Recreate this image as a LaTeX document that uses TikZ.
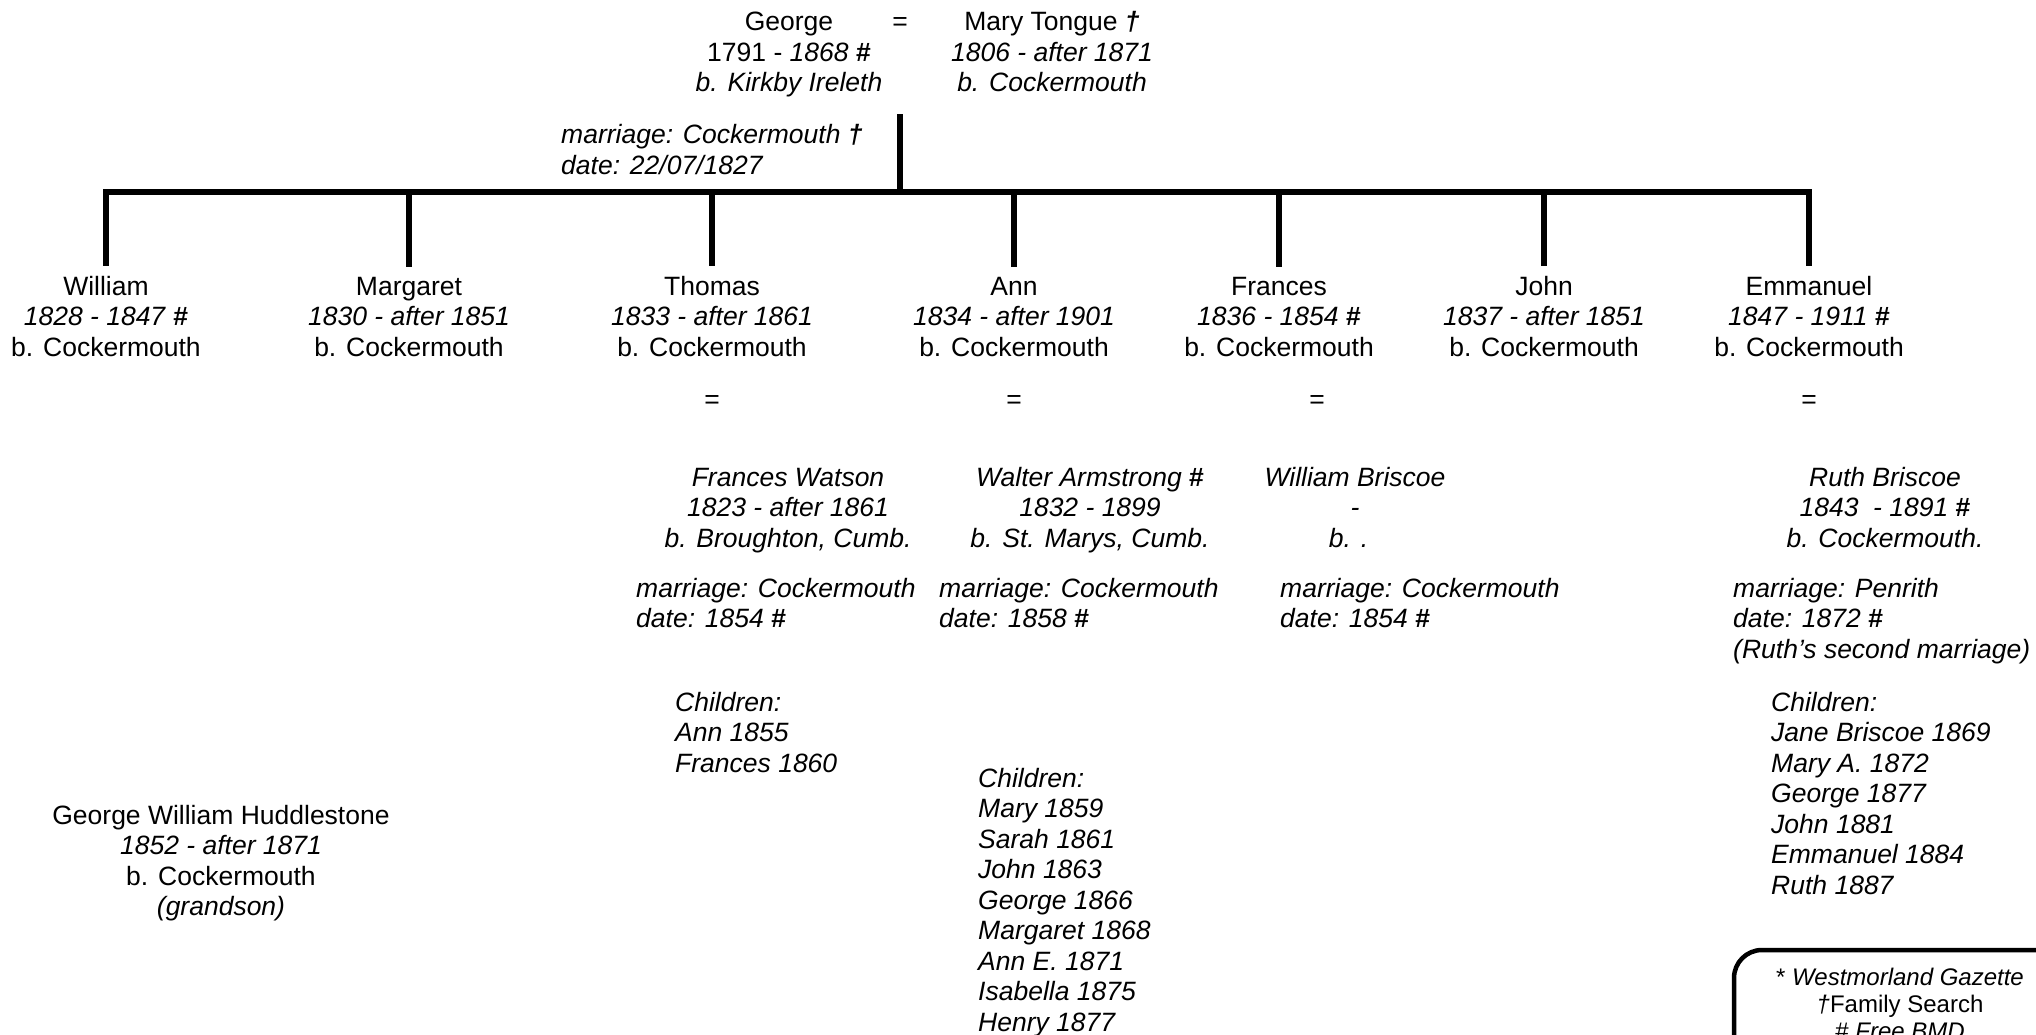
\documentclass[tikz,border=0pt]{standalone}
\usepackage{fontspec}
\setmainfont{Liberation Sans}
\newcommand{\hsh}{\textup{\textbf{\#}}}
\newcommand{\dgr}{\textbf{\textit{†}}}
\begin{document}
\begin{tikzpicture}[x=1pt,y=-1pt,
  tx/.style={font=\fontsize{26.5}{30.5}\selectfont, inner sep=0pt, align=center, anchor=base},
  txl/.style={tx, align=left, anchor=base west},
  ln/.style={line width=5.5pt, line cap=rect},
  keybox/.style={line width=4.5pt, rounded corners=28pt}]
\useasboundingbox (0,0) rectangle (2036,1035);
\clip (0,0) rectangle (2036,1035);

% parents (y = baseline of the last line)
\node[tx] (george) at (789,92) {George\\1791 - \textit{1868} \hsh\\\textit{b. Kirkby Ireleth}};
\node[tx] (eq0) at (900,31) {=};
\node[tx] (mary) at (1052,92) {Mary Tongue \dgr\\\textit{1806 - after 1871}\\\textit{b. Cockermouth}};
\node[txl] (marr0) at (561,174.5) {\textit{marriage: Cockermouth} \dgr\\\textit{date: 22/07/1827}};

% children
\node[tx] (cW) at (106,356) {William\\\textit{1828 - 1847} \hsh\\b. Cockermouth};
\node[tx] (cM) at (409,356) {Margaret\\\textit{1830 - after 1851}\\b. Cockermouth};
\node[tx] (cT) at (712,356) {Thomas\\\textit{1833 - after 1861}\\b. Cockermouth};
\node[tx] (cA) at (1014,356) {Ann\\\textit{1834 - after 1901}\\b. Cockermouth};
\node[tx] (cF) at (1279,356) {Frances\\\textit{1836 - 1854} \hsh\\b. Cockermouth};
\node[tx] (cJ) at (1544,356) {John\\\textit{1837 - after 1851}\\b. Cockermouth};
\node[tx] (cE) at (1809,356) {Emmanuel\\\textit{1847 - 1911} \hsh\\b. Cockermouth};

% connectors
\coordinate (mar) at (900,117);
\coordinate (bj) at (900,192);
\coordinate (b1) at (106,192);
\coordinate (b2) at (409,192);
\coordinate (b3) at (712,192);
\coordinate (b4) at (1014,192);
\coordinate (b5) at (1279,192);
\coordinate (b6) at (1544,192);
\coordinate (b7) at (1809,192);
\draw[ln] (mar) -- (bj);
\draw[ln] (b1) -- (b7);
\foreach \c/\b in {cW/b1,cM/b2,cT/b3,cA/b4,cF/b5,cJ/b6,cE/b7}
  \draw[ln, shorten >=12pt] (\b) -- (\c.north);

% equals signs
\node[tx] (eqT) at (712,408) {=};
\node[tx] (eqA) at (1014,408) {=};
\node[tx] (eqF) at (1317,408) {=};
\node[tx] (eqE) at (1809,408) {=};

% spouses
\node[tx] (sT) at (788,547) {\itshape Frances Watson\\\itshape 1823 - after 1861\\\itshape b. Broughton, Cumb.};
\node[tx] (sA) at (1090,547) {\itshape Walter Armstrong \hsh\\\itshape 1832 - 1899\\\itshape b. St. Marys, Cumb.};
\node[tx] (sF) at (1355,547) {\itshape William Briscoe\\\itshape -\\\itshape b. .\hspace*{13pt}};
\node[tx] (sE) at (1885,547) {\itshape Ruth Briscoe\\\itshape 1843\ \ - 1891 \hsh\\\itshape b. Cockermouth.};

% marriages
\node[txl] (mT) at (636,627.5) {\itshape marriage: Cockermouth\\\itshape date: 1854 \hsh};
\node[txl] (mA) at (939,627.5) {\itshape marriage: Cockermouth\\\itshape date: 1858 \hsh};
\node[txl] (mF) at (1280,627.5) {\itshape marriage: Cockermouth\\\itshape date: 1854 \hsh};
\node[txl] (mE) at (1733,658) {\itshape marriage: Penrith\\\itshape date: 1872 \hsh\\\itshape (Ruth’s second marriage)};

% grandchildren
\node[txl] (kT) at (675,772) {\itshape Children:\\\itshape Ann 1855\\\itshape Frances 1860};
\node[txl] (kA) at (978,1031) {\itshape Children:\\\itshape Mary 1859\\\itshape Sarah 1861\\\itshape John 1863\\\itshape George 1866\\\itshape Margaret 1868\\\itshape Ann E. 1871\\\itshape Isabella 1875\\\itshape Henry 1877};
\node[txl] (kE) at (1771,894) {\itshape Children:\\\itshape Jane Briscoe 1869\\\itshape Mary A. 1872\\\itshape George 1877\\\itshape John 1881\\\itshape Emmanuel 1884\\\itshape Ruth 1887};

\node[tx] (gwh) at (221,915.5) {George William Huddlestone\\\textit{1852 - after 1871}\\b. Cockermouth\\\textit{(grandson)}};

% key box
\draw[keybox] (1734,950) rectangle (2120,1120);
\node[tx, font=\fontsize{24}{27}\selectfont] (key) at (1900,1039) {* \textit{Westmorland Gazette}\\\textit{†}Family Search\\\# \textit{Free BMD}};
\end{tikzpicture}
\end{document}
